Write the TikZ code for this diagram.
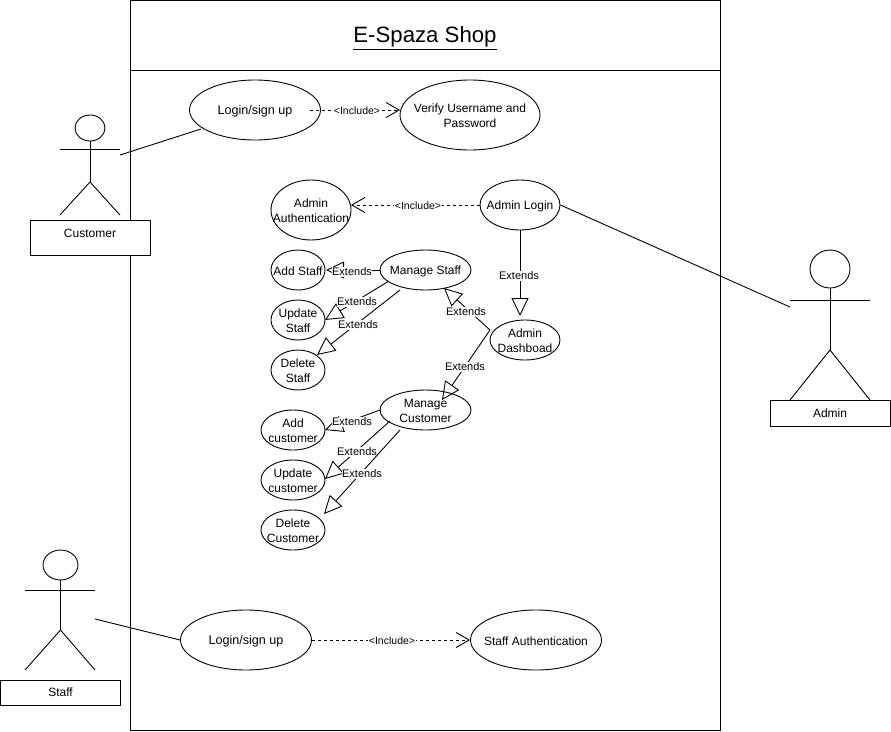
\documentclass[tikz,border=0pt]{standalone}
\usepackage{fontspec}
\setmainfont{Liberation Sans}
\usetikzlibrary{shapes.geometric,arrows.meta}
\tikzset{
  line/.style={draw=black,line width=0.9pt},
  uctext/.style={align=center,inner sep=0pt,yshift=-1pt,font=\fontsize{12}{15}\selectfont},
  usecase/.style={line,ellipse,inner sep=0pt,label={[uctext]center:{#1}}},
  labelbox/.style={line,fill=white,rectangle,inner sep=0pt,font=\fontsize{12}{15}\selectfont},
  extlabel/.style={fill=white,inner sep=0.5pt,font=\fontsize{11}{13}\selectfont},
  inclabel/.style={fill=white,inner sep=0.5pt,font=\fontsize{10.5}{12}\selectfont},
  extends/.style={line,-{Triangle[open,length=18pt,width=17pt,line width=0.9pt]}},
  includes/.style={line,dashed,dash pattern=on 3pt off 3pt,-{Straight Barb[length=13pt,width=15pt,line width=0.9pt]}},
  head/.style={line,ellipse,inner sep=0pt},
  plain/.style={line}
}
\newcommand{\wider}{\fontsize{12.6}{15}\selectfont}
\begin{document}
\begin{tikzpicture}[x=1pt,y=-1pt]
\useasboundingbox (0,0) rectangle (891,731);
\fill[white] (0,0) rectangle (891,731);
% system frame
\draw[line] (130.5,0.5) rectangle (720,730);
\draw[line] (130.5,70.5) -- (720,70.5);
\node[font=\fontsize{22.2}{26}\selectfont] (title) at (425,38) {\underline{E-Spaza Shop}};
% use cases
\node[usecase={\wider Login/sign up},minimum width=131pt,minimum height=60pt] (login) at (255,110) {};
\node[usecase={Verify Username and\\Password},minimum width=140pt,minimum height=70pt] (verify) at (470,115) {};
\node[usecase={Admin\\Authentication},minimum width=80pt,minimum height=60pt] (aauth) at (311,210) {};
\node[usecase={Admin Login},minimum width=80pt,minimum height=50pt] (alogin) at (520,205) {};
\node[usecase={Add Staff},minimum width=54pt,minimum height=40pt] (addstaff) at (298,270) {};
\node[usecase={Manage Staff},minimum width=91pt,minimum height=40pt] (mstaff) at (425.5,270) {};
\node[usecase={Update\\Staff},minimum width=54pt,minimum height=40pt] (upstaff) at (298,320) {};
\node[usecase={Delete\\Staff},minimum width=54pt,minimum height=40pt] (delstaff) at (298,370) {};
\node[usecase={Admin\\Dashboad},minimum width=70pt,minimum height=40pt] (dash) at (525,340) {};
\node[usecase={Manage\\Customer},minimum width=91pt,minimum height=40pt] (mcust) at (425.5,410) {};
\node[usecase={Add\\customer},minimum width=64pt,minimum height=40pt] (addcust) at (293,430) {};
\node[usecase={Update\\customer},minimum width=64pt,minimum height=40pt] (upcust) at (293,480) {};
\node[usecase={Delete\\Customer},minimum width=64pt,minimum height=40pt] (delcust) at (293,530) {};
\node[usecase={\wider Login/sign up},minimum width=131pt,minimum height=60pt] (slogin) at (246,640) {};
\node[usecase={Staff Authentication},minimum width=131pt,minimum height=60pt] (sauth) at (536,640) {};
% customer actor
\node[head,minimum width=30pt,minimum height=26pt] (chead) at (90,128) {};
\coordinate (chip) at (90,182);
\draw[plain] (chead.south) -- (chip);
\draw[plain] (60,149) -- (120,149);
\draw[plain] (60,215) -- (chip) -- (120,215);
\node[labelbox,minimum width=120pt,minimum height=35pt] (cbox) at (90,237.5) {};
\node[font=\fontsize{12}{15}\selectfont] (clabel) at (90,233.5) {Customer};
% admin actor
\node[head,minimum width=40pt,minimum height=38pt] (ahead) at (830,269) {};
\coordinate (ahip) at (830,350);
\draw[plain] (ahead.south) -- (ahip);
\draw[plain] (790,300) -- (870,300);
\draw[plain] (790,400) -- (ahip) -- (870,400);
\node[labelbox,minimum width=120pt,minimum height=26pt] (abox) at (830,413) {\raisebox{-1pt}{Admin}};
% staff actor
\node[head,minimum width=35pt,minimum height=30pt] (shead) at (60.5,565) {};
\coordinate (ship) at (60.5,630);
\draw[plain] (shead.south) -- (ship);
\draw[plain] (25,590) -- (95,590);
\draw[plain] (25,670) -- (ship) -- (95,670);
\node[labelbox,minimum width=120pt,minimum height=25pt] (sbox) at (60.5,692.5) {\raisebox{-1pt}{Staff}};
% actor associations
\coordinate (chand) at (120,155);
\coordinate (loginedge) at (201,129);
\coordinate (ahand) at (790,307);
\coordinate (shand) at (95,619);
\draw[plain] (chand) -- (loginedge);
\draw[plain] (ahand) -- (alogin.east);
\draw[plain] (shand) -- (slogin.west);
% includes
\coordinate (loginstart) at (310,110);
\coordinate (verifyedge) at (400,110);
\draw[includes] (loginstart) -- (verifyedge);
\node[inclabel] (il1) at (357,111) {<Include>};
\coordinate (aauthedge) at (351,205);
\draw[includes] (alogin.west) -- (aauthedge);
\node[inclabel] (il2) at (418,206) {<Include>};
\draw[includes] (slogin.east) -- (sauth.west);
\node[inclabel] (il3) at (392,641) {<Include>};
% extends
\coordinate (t1) at (520,316);
\draw[extends] (alogin.south) -- (t1);
\node[extlabel] (e1) at (519,276) {Extends};
\coordinate (t2) at (326,270);
\coordinate (s2) at (380,270);
\draw[extends] (s2) -- (t2);
\node[extlabel] (e2) at (352,272) {Extends};
\coordinate (s3) at (389,281);
\coordinate (t3) at (325,320);
\draw[extends] (s3) -- (t3);
\node[extlabel] (e3) at (357,302) {Extends};
\coordinate (s4) at (400,290);
\coordinate (t4) at (317,355);
\draw[extends] (s4) -- (t4);
\node[extlabel] (e4) at (358,325) {Extends};
\coordinate (s5) at (490,330);
\coordinate (t5) at (444,288);
\draw[extends] (s5) -- (t5);
\node[extlabel] (e5) at (466,312) {Extends};
\coordinate (t6) at (442,400);
\draw[extends] (s5) -- (t6);
\node[extlabel] (e6) at (465,367) {Extends};
\coordinate (s7) at (380,410);
\coordinate (t7) at (325,430);
\draw[extends] (s7) -- (t7);
\node[extlabel] (e7) at (352,422) {Extends};
\coordinate (s8) at (390,421);
\coordinate (t8) at (325,479);
\draw[extends] (s8) -- (t8);
\node[extlabel] (e8) at (357,452) {Extends};
\coordinate (s9) at (400,430);
\coordinate (t9) at (324,514);
\draw[extends] (s9) -- (t9);
\node[extlabel] (e9) at (362,474) {Extends};
\end{tikzpicture}
\end{document}
